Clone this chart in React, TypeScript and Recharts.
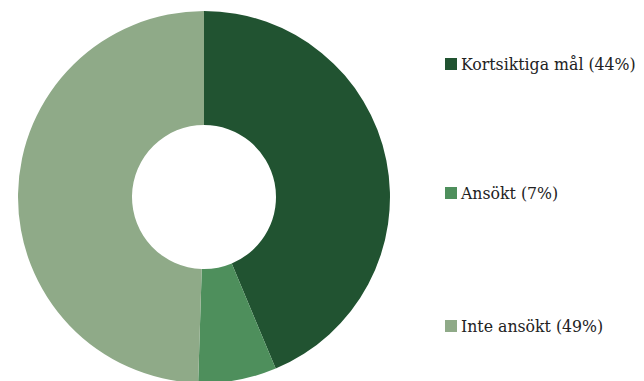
import { Cell, Pie, PieChart } from "recharts";

const labels = ["Kortsiktiga mål (44%)", "Ansökt (7%)", "Inte ansökt (49%)"];
const values = [43.7, 6.8, 49.5];
const colors = ["#215331", "#4e8f5c", "#8faa88"];
const legendTops = [64, 193, 326];

const data = labels.map((name, i) => ({ name, value: values[i] }));

export default function App() {
  return (
    <div style={{ position: "absolute", left: 0, top: 0, width: 644, height: 381, background: "#fff" }}>
      <PieChart width={644} height={381} margin={{ top: 0, right: 0, bottom: 0, left: 0 }}>
        <Pie
          data={data}
          dataKey="value"
          cx={204}
          cy={197}
          innerRadius={72}
          outerRadius={186}
          startAngle={90}
          endAngle={-270}
          stroke="none"
          isAnimationActive={false}
        >
          {data.map((d, i) => (
            <Cell key={d.name} fill={colors[i]} />
          ))}
        </Pie>
      </PieChart>
      {labels.map((label, i) => (
        <div
          key={label}
          style={{
            position: "absolute",
            left: 445,
            top: legendTops[i] - 12,
            height: 24,
            display: "flex",
            alignItems: "center",
            fontFamily: "'DejaVu Serif Condensed', 'DejaVu Serif', serif",
            fontSize: 17.5,
            color: "#222",
            whiteSpace: "nowrap"
          }}
        >
          <span style={{ width: 12, height: 12, background: colors[i], marginRight: 4, display: "inline-block" }} />
          {label}
        </div>
      ))}
    </div>
  );
}
